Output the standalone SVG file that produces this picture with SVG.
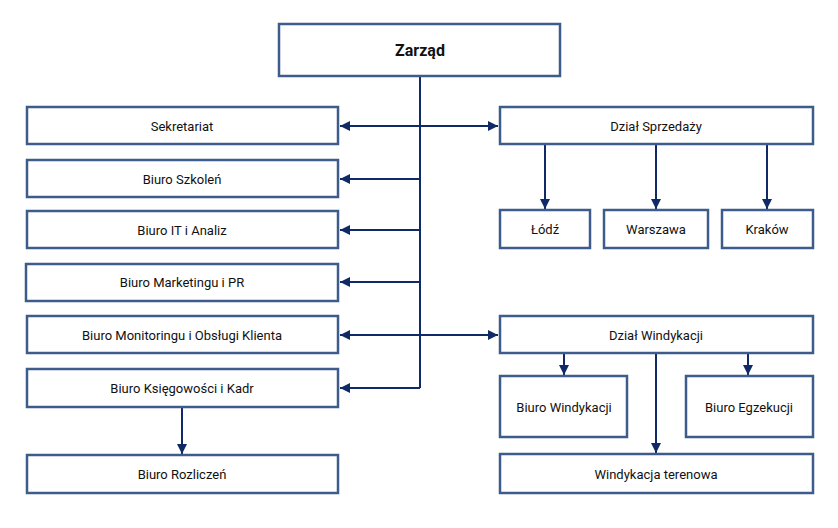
<svg xmlns="http://www.w3.org/2000/svg" width="838" height="528" viewBox="0 0 838 528">
<defs>
<style>
.box{fill:#fff;stroke:#3d5c8c;stroke-width:2.5}
.t{font-family:Roboto,"Liberation Sans",sans-serif;font-size:13px;fill:#111;text-anchor:middle;dominant-baseline:central}
.b{font-size:16px;font-weight:bold}
.c{fill:none;stroke:#0f2a66;stroke-width:2}
</style>
<marker id="a" viewBox="0 0 10 10" refX="10" refY="5" markerWidth="5" markerHeight="5" orient="auto-start-reverse" markerUnits="strokeWidth">
<path d="M0,0 L10,5 L0,10 Z" fill="#0f2a66"/>
</marker>
</defs>
<rect width="838" height="528" fill="#fff"/>
<g id="connectors">
<path class="c" d="M420,76 V388"/>
<path class="c" d="M340,126 H498" marker-start="url(#a)" marker-end="url(#a)"/>
<path class="c" d="M420,179 H340" marker-end="url(#a)"/>
<path class="c" d="M420,230 H340" marker-end="url(#a)"/>
<path class="c" d="M420,282 H340" marker-end="url(#a)"/>
<path class="c" d="M340,335 H498" marker-start="url(#a)" marker-end="url(#a)"/>
<path class="c" d="M420,388 H340" marker-end="url(#a)"/>
<path class="c" d="M182,407 V454" marker-end="url(#a)"/>
<path class="c" d="M545,144 V209" marker-end="url(#a)"/>
<path class="c" d="M656,144 V209" marker-end="url(#a)"/>
<path class="c" d="M767,144 V209" marker-end="url(#a)"/>
<path class="c" d="M564,353 V375" marker-end="url(#a)"/>
<path class="c" d="M748,353 V375" marker-end="url(#a)"/>
<path class="c" d="M656,353 V453" marker-end="url(#a)"/>
</g>
<g id="zarzad"><rect class="box" x="279" y="24" width="281" height="52"/><text class="t b" x="420" y="50">Zarząd</text></g>
<g id="sekretariat"><rect class="box" x="27" y="107" width="311" height="37"/><text class="t" x="182" y="126">Sekretariat</text></g>
<g id="szkolen"><rect class="box" x="27" y="160" width="311" height="37"/><text class="t" x="182" y="179">Biuro Szkoleń</text></g>
<g id="it"><rect class="box" x="27" y="211" width="311" height="37"/><text class="t" x="182" y="230">Biuro IT i Analiz</text></g>
<g id="marketing"><rect class="box" x="26" y="264" width="312" height="37"/><text class="t" x="182" y="282">Biuro Marketingu i PR</text></g>
<g id="monitoring"><rect class="box" x="27" y="316" width="311" height="37"/><text class="t" x="182" y="335">Biuro Monitoringu i Obsługi Klienta</text></g>
<g id="ksiegowosc"><rect class="box" x="27" y="369" width="311" height="38"/><text class="t" x="182" y="388">Biuro Księgowości i Kadr</text></g>
<g id="rozliczen"><rect class="box" x="27" y="455" width="311" height="38"/><text class="t" x="182" y="474">Biuro Rozliczeń</text></g>
<g id="sprzedaz"><rect class="box" x="500" y="107" width="313" height="37"/><text class="t" x="656" y="126">Dział Sprzedaży</text></g>
<g id="lodz"><rect class="box" x="500" y="210" width="90" height="38"/><text class="t" x="545" y="229">Łódź</text></g>
<g id="warszawa"><rect class="box" x="604" y="210" width="104" height="38"/><text class="t" x="656" y="229">Warszawa</text></g>
<g id="krakow"><rect class="box" x="722" y="210" width="91" height="38"/><text class="t" x="767" y="229">Kraków</text></g>
<g id="windykacja"><rect class="box" x="500" y="316" width="313" height="37"/><text class="t" x="656" y="335">Dział Windykacji</text></g>
<g id="biuro-windykacji"><rect class="box" x="500" y="376" width="127" height="61"/><text class="t" x="564" y="407">Biuro Windykacji</text></g>
<g id="egzekucji"><rect class="box" x="686" y="376" width="127" height="61"/><text class="t" x="749" y="407">Biuro Egzekucji</text></g>
<g id="terenowa"><rect class="box" x="500" y="454" width="313" height="39"/><text class="t" x="656" y="474">Windykacja terenowa</text></g>
</svg>
